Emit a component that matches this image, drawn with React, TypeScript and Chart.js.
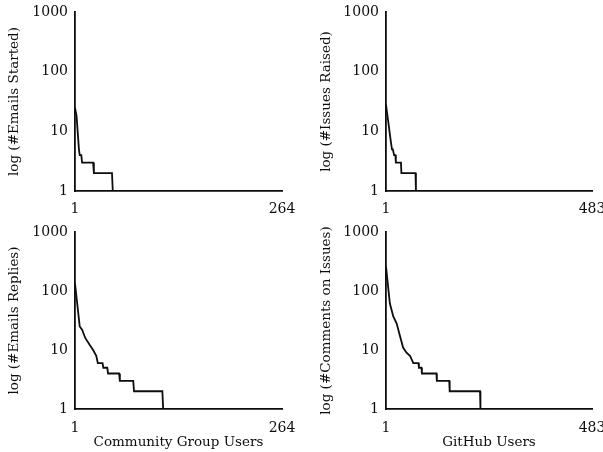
import React, { useEffect, useRef } from "react";
import { Chart, registerables } from "chart.js";

Chart.register(...registerables);

// ---- data ----
const communityUsers = 264;
const githubUsers = 483;
const yTickValues = [1, 10, 100, 1000];

// Community group: #Emails Started (rank of user vs count)
const emailsStartedRank = [1, 3, 6, 7, 9, 10, 24, 25, 48, 49, 163];
const emailsStartedCount = [25, 18, 5, 4, 4, 3, 3, 2, 2, 1, 1];

// GitHub: #Issues Raised
const issuesRaisedRank = [1, 6, 12, 15, 17, 20, 23, 24, 36, 37, 70, 71, 225];
const issuesRaisedCount = [28, 15, 7, 5, 5, 4, 4, 3, 3, 2, 2, 1, 1];

// Community group: #Emails Replies
const emailRepliesRank = [1, 7, 10, 14, 20, 24, 28, 30, 36, 37, 42, 43, 57, 58, 75, 76, 112, 113, 264];
const emailRepliesCount = [135, 25, 22, 16, 12, 10, 8, 6, 6, 5, 5, 4, 4, 3, 3, 2, 2, 1, 1];

// GitHub: #Comments on Issues
const issueCommentsRank = [1, 10, 18, 26, 34, 41, 49, 57, 65, 77, 78, 84, 85, 119, 120, 149, 150, 221, 222, 404];
const issueCommentsCount = [260, 62, 37, 28, 17, 11, 9, 8, 6, 6, 5, 5, 4, 4, 3, 3, 2, 2, 1, 1];

const FONT = "'DejaVu Serif', serif";
const INK = "#0d0d0d";

type PanelDef = {
  ranks: number[];
  counts: number[];
  xMax: number;
  yTitle: string;
  xTitle?: string;
  left: number;
  top: number;
  width: number;
  height: number;
  areaLeft: number;
  areaRight: number;
  areaBottom: number;
  padLeft: number;
  tickPad: number;
};

const panels: PanelDef[] = [
  { ranks: emailsStartedRank, counts: emailsStartedCount, xMax: communityUsers, yTitle: "log (#Emails Started)",
    left: 0, top: 0, width: 300, height: 220, areaLeft: 75, areaRight: 282, areaBottom: 191, padLeft: 0, tickPad: 10 },
  { ranks: issuesRaisedRank, counts: issuesRaisedCount, xMax: githubUsers, yTitle: "log (#Issues Raised)",
    left: 300, top: 0, width: 303, height: 220, areaLeft: 86, areaRight: 292, areaBottom: 191, padLeft: 12, tickPad: 10 },
  { ranks: emailRepliesRank, counts: emailRepliesCount, xMax: communityUsers, yTitle: "log (#Emails Replies)",
    xTitle: "Community Group Users",
    left: 0, top: 220, width: 300, height: 232, areaLeft: 75, areaRight: 282, areaBottom: 189, padLeft: 0, tickPad: 11 },
  { ranks: issueCommentsRank, counts: issueCommentsCount, xMax: githubUsers, yTitle: "log (#Comments on Issues)",
    xTitle: "GitHub Users",
    left: 300, top: 220, width: 303, height: 232, areaLeft: 86, areaRight: 292, areaBottom: 189, padLeft: 12, tickPad: 11 },
];

function makeChart(canvas: HTMLCanvasElement, p: PanelDef) {
  const top = 12;
  return new Chart(canvas, {
    type: "line",
    data: {
      datasets: [
        {
          data: p.ranks.map((r, i) => ({ x: r, y: p.counts[i] })),
          borderColor: INK,
          borderWidth: 1.8,
          pointRadius: 0,
          tension: 0,
          fill: false,
        },
      ],
    },
    options: {
      animation: false,
      responsive: false,
      layout: {
        autoPadding: false,
        padding: { left: p.padLeft, top, right: p.width - p.areaRight, bottom: 0 },
      },
      plugins: { legend: { display: false }, tooltip: { enabled: false } },
      scales: {
        x: {
          type: "linear",
          min: 1,
          max: p.xMax,
          grid: { display: false, drawTicks: false },
          border: { display: true, color: INK, width: 1.8 },
          ticks: {
            padding: p.tickPad,
            autoSkip: false,
            maxRotation: 0,
            color: INK,
            font: { family: FONT, size: 14 },
            callback: (v: any) => String(v),
          },
          afterBuildTicks: (s: any) => {
            s.ticks = [{ value: 1 }, { value: p.xMax }];
          },
          afterFit: (s: any) => {
            s.height = p.height - p.areaBottom;
            s.paddingLeft = 0;
            s.paddingRight = 0;
          },
          title: p.xTitle
            ? {
                display: true,
                text: p.xTitle,
                color: INK,
                font: { family: FONT, size: 13.5 },
                padding: { top: 0, bottom: 1 },
              }
            : { display: false },
        },
        y: {
          type: "logarithmic",
          min: 1,
          max: 1000,
          grid: { display: false, drawTicks: false },
          border: { display: true, color: INK, width: 1.8 },
          ticks: {
            padding: 7,
            autoSkip: false,
            color: INK,
            font: { family: FONT, size: 14 },
            callback: (v: any) => String(v),
          },
          afterBuildTicks: (s: any) => {
            s.ticks = yTickValues.map((v) => ({ value: v }));
          },
          afterFit: (s: any) => {
            s.width = p.areaLeft - p.padLeft;
            s.paddingTop = 0;
            s.paddingBottom = 0;
          },
          title: {
            display: true,
            text: p.yTitle,
            color: INK,
            font: { family: FONT, size: 13.5 },
            padding: { top: 6.5, bottom: 0 },
          },
        },
      },
    },
  } as any);
}

export default function App() {
  const refs = useRef<(HTMLCanvasElement | null)[]>([]);

  useEffect(() => {
    const charts = panels.map((p, i) => makeChart(refs.current[i] as HTMLCanvasElement, p));
    return () => charts.forEach((c) => c.destroy());
  }, []);

  return (
    <div style={{ position: "absolute", left: 0, top: 0, width: 603, height: 452, background: "#fff" }}>
      {panels.map((p, i) => (
        <canvas
          key={i}
          ref={(el) => {
            refs.current[i] = el;
          }}
          width={p.width}
          height={p.height}
          style={{ position: "absolute", left: p.left, top: p.top, width: p.width, height: p.height }}
        />
      ))}
    </div>
  );
}
